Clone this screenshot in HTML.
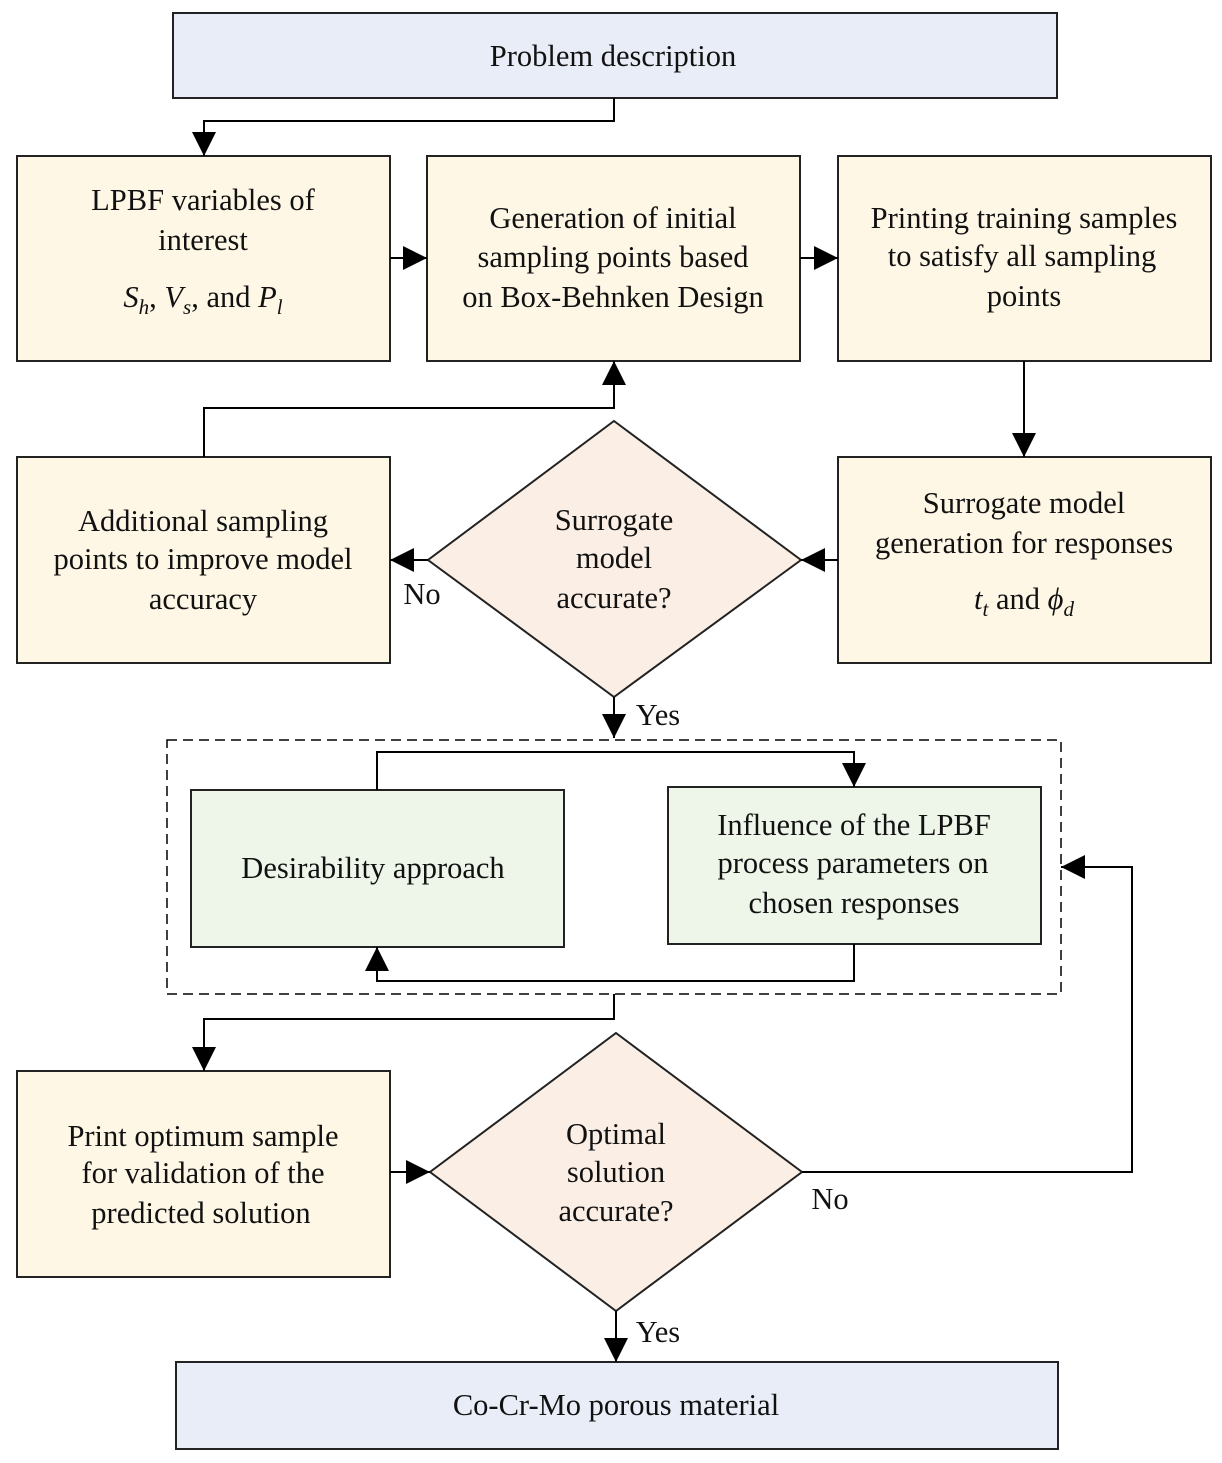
<!DOCTYPE html>
<html><head><meta charset="utf-8"><style>
body{margin:0;background:#fff}
svg{display:block}
text{font-family:"Liberation Serif",serif;font-size:30.5px;fill:#111;text-anchor:middle}
.i{font-style:italic}
</style></head><body>
<svg width="1222" height="1463" viewBox="0 0 1222 1463" xmlns="http://www.w3.org/2000/svg">
<defs>
<marker id="b" viewBox="0 0 10 10" refX="10" refY="5" markerWidth="24" markerHeight="24" orient="auto" markerUnits="userSpaceOnUse"><path d="M0,0 L10,5 L0,10z" fill="#000"/></marker></defs>
<g stroke="#222" stroke-width="2">
<rect x="173" y="13" width="884" height="85" fill="#e9edf7"/>
<rect x="17" y="156" width="373" height="205" fill="#fff7e6"/>
<rect x="427" y="156" width="373" height="205" fill="#fff7e6"/>
<rect x="838" y="156" width="373" height="205" fill="#fff7e6"/>
<rect x="17" y="457" width="373" height="206" fill="#fff7e6"/>
<rect x="838" y="457" width="373" height="206" fill="#fff7e6"/>
<polygon points="614,421 801,560 614,697 428,560" fill="#fbeee5"/>
<rect x="167" y="740" width="894" height="254" fill="none" stroke="#000" stroke-dasharray="10,6" stroke-width="1.5"/>
<rect x="191" y="790" width="373" height="157" fill="#eef5e9"/>
<rect x="668" y="787" width="373" height="157" fill="#eef5e9"/>
<rect x="17" y="1071" width="373" height="206" fill="#fff7e6"/>
<polygon points="616,1033 802,1172 616,1311 430,1172" fill="#fbeee5"/>
<rect x="176" y="1362" width="882" height="87" fill="#e9edf7"/>
</g>
<g stroke="#000" stroke-width="2" fill="none" marker-end="url(#b)">
<polyline points="614,98 614,121 204,121 204,156"/>
<line x1="390" y1="258" x2="427" y2="258"/>
<line x1="800" y1="258" x2="838" y2="258"/>
<line x1="1024" y1="361" x2="1024" y2="457"/>
<line x1="838" y1="560" x2="801" y2="560"/>
<line x1="428" y1="560" x2="390" y2="560"/>
<polyline points="204,457 204,408 614,408 614,361"/>
<line x1="614" y1="697" x2="614" y2="738"/>
<polyline points="377,790 377,752 854,752 854,787"/>
<polyline points="854,944 854,981 377,981 377,947"/>
<polyline points="614,994 614,1019 204,1019 204,1071"/>
<line x1="390" y1="1172" x2="430" y2="1172"/>
<polyline points="802,1172 1132,1172 1132,867 1061,867"/>
<line x1="616" y1="1311" x2="616" y2="1362"/>
</g>
<text x="613" y="66">Problem description</text>
<text x="203" y="210">LPBF variables of</text>
<text x="203" y="250">interest</text>
<text x="203" y="307"><tspan class="i">S</tspan><tspan class="i" font-size="21" dy="7">h</tspan><tspan dy="-7">, </tspan><tspan class="i">V</tspan><tspan class="i" font-size="21" dy="7">s</tspan><tspan dy="-7">, and </tspan><tspan class="i">P</tspan><tspan class="i" font-size="21" dy="7">l</tspan></text>
<text x="613" y="228">Generation of initial</text>
<text x="613" y="267">sampling points based</text>
<text x="613" y="307">on Box-Behnken Design</text>
<text x="1024" y="228">Printing training samples</text>
<text x="1022" y="266">to satisfy all sampling</text>
<text x="1024" y="306">points</text>
<text x="203" y="531">Additional sampling</text>
<text x="203" y="569">points to improve model</text>
<text x="203" y="609">accuracy</text>
<text x="614" y="530">Surrogate</text>
<text x="614" y="568">model</text>
<text x="614" y="608">accurate?</text>
<text x="1024" y="513">Surrogate model</text>
<text x="1024" y="553">generation for responses</text>
<text x="1024" y="609"><tspan class="i">t</tspan><tspan class="i" font-size="21" dy="7">t</tspan><tspan dy="-7"> and </tspan><tspan class="i">ϕ</tspan><tspan class="i" font-size="21" dy="7">d</tspan></text>
<text x="422" y="604">No</text>
<text x="658" y="725">Yes</text>
<text x="373" y="878">Desirability approach</text>
<text x="854" y="835">Influence of the LPBF</text>
<text x="853" y="873">process parameters on</text>
<text x="854" y="913">chosen responses</text>
<text x="203" y="1146">Print optimum sample</text>
<text x="203" y="1183">for validation of the</text>
<text x="201" y="1223">predicted solution</text>
<text x="616" y="1144">Optimal</text>
<text x="616" y="1182">solution</text>
<text x="616" y="1221">accurate?</text>
<text x="830" y="1209">No</text>
<text x="658" y="1342">Yes</text>
<text x="616" y="1415">Co-Cr-Mo porous material</text>
</svg>
</body></html>
